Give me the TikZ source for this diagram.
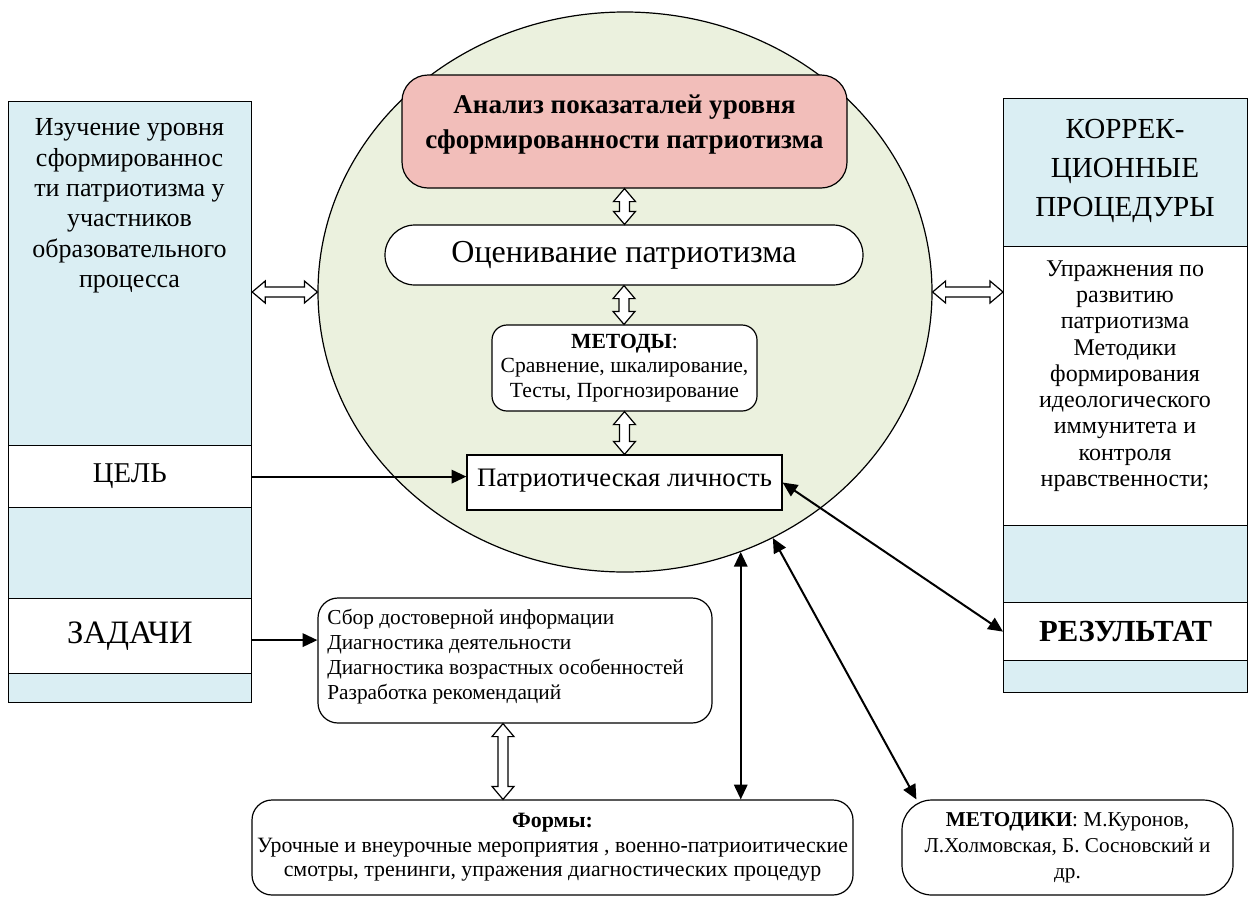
\documentclass[tikz,border=0pt]{standalone}
\usepackage{fontspec}
\setmainfont{Liberation Serif}
\usetikzlibrary{shapes.geometric,arrows.meta,calc}
\newdimen\pxu \pxu=0.75pt
\definecolor{colblue}{RGB}{218,238,243}
\definecolor{circgreen}{RGB}{235,241,222}
\definecolor{redfill}{RGB}{242,190,186}
\newcommand\fs[2]{\fontsize{#1}{#2}\selectfont}
\newcommand\harr[2]{\draw[hollow] let \p1=#1, \p2=#2 in
  (\x1,\y1) -- (\x1+9.75pt,\y1+8.25pt) -- (\x1+9.75pt,\y1+3.75pt) -- (\x2-9.75pt,\y1+3.75pt)
  -- (\x2-9.75pt,\y1+8.25pt) -- (\x2,\y1) -- (\x2-9.75pt,\y1-8.25pt) -- (\x2-9.75pt,\y1-3.75pt)
  -- (\x1+9.75pt,\y1-3.75pt) -- (\x1+9.75pt,\y1-8.25pt) -- cycle;}
\newcommand\varr[2]{\draw[hollow] let \p1=#1, \p2=#2 in
  (\x1,\y1) -- (\x1+8.25pt,\y1-9.75pt) -- (\x1+3.75pt,\y1-9.75pt) -- (\x1+3.75pt,\y2+9.75pt)
  -- (\x1+8.25pt,\y2+9.75pt) -- (\x1,\y2) -- (\x1-8.25pt,\y2+9.75pt) -- (\x1-3.75pt,\y2+9.75pt)
  -- (\x1-3.75pt,\y1-9.75pt) -- (\x1-8.25pt,\y1-9.75pt) -- cycle;}
\begin{document}
\begin{tikzpicture}[x=0.75pt,y=-0.75pt,
  frame/.style={draw=black, line width=0.9pt},
  colbox/.style={frame, fill=colblue, rectangle, inner sep=0pt, anchor=north west},
  band/.style={frame, fill=white, rectangle, inner sep=0pt, anchor=north west},
  rbox/.style={frame, fill=white, rectangle, inner sep=0pt},
  arr/.style={line width=1.5pt, -{Triangle[length=11pt,width=10pt]}},
  dbl/.style={line width=1.5pt, {Triangle[length=11pt,width=10pt]}-{Triangle[length=11pt,width=10pt]}},
  hollow/.style={draw=black, fill=white, line width=0.9pt, line join=miter},
  txt/.style={inner sep=0pt, align=center}]
\useasboundingbox (0,0) rectangle (1249,897);
\fill[white] (0,0) rectangle (1249,897);
% central ellipse
\node[ellipse, draw=black, line width=0.9pt, fill=circgreen, minimum width=614\pxu, minimum height=560\pxu, inner sep=0pt] (circ) at (625,292) {};
% left column
\node[colbox, minimum width=243.5\pxu, minimum height=601\pxu] (leftcol) at (7.5,101) {};
\node[txt, font=\fs{19.5}{22.8}] (lhead) at (129.5,206) {Изучение уровня\\сформированнос\\ти патриотизма у\\участников\\образовательного\\процесса};
\node[band, minimum width=243.5\pxu, minimum height=62\pxu, font=\fs{21.5}{26}] (cel) at (7.5,445) {ЦЕЛЬ};
\node[band, minimum width=243.5\pxu, minimum height=75\pxu, font=\fs{24.5}{28}] (zad) at (7.5,598) {ЗАДАЧИ};
% right column
\node[colbox, minimum width=244\pxu, minimum height=594\pxu] (rightcol) at (1003,98) {};
\node[txt, font=\fs{21.8}{29.5}] (rhead) at (1125,171) {КОРРЕК-\\ЦИОННЫЕ\\ПРОЦЕДУРЫ};
\node[band, minimum width=244\pxu, minimum height=279\pxu] (rband) at (1003,246) {};
\node[txt, font=\fs{18}{19.7}] (rtext) at (1125,376) {Упражнения по\\развитию\\патриотизма\\Методики\\формирования\\идеологического\\иммунитета и\\контроля\\нравственности;};
\node[band, minimum width=244\pxu, minimum height=58\pxu, font=\bfseries\fs{23}{26}] (res) at (1003,602) {РЕЗУЛЬТАТ};
% boxes in the ellipse
\node[frame, fill=redfill, rounded corners=26\pxu, minimum width=445\pxu, minimum height=113\pxu, inner sep=0pt] (anal) at (624.5,131.5) {};
\node[txt, font=\bfseries\fs{20.3}{26.25}] (analtext) at (624.5,125) {Анализ показаталей уровня\\сформированности патриотизма};
\node[frame, fill=white, rounded corners=30\pxu, minimum width=478\pxu, minimum height=60\pxu, inner sep=0pt, font=\fs{24}{28}] (ocen) at (624,255) {Оценивание патриотизма};
\node[frame, fill=white, rounded corners=15\pxu, minimum width=265\pxu, minimum height=86\pxu, align=center, inner sep=0pt, font=\fs{16.2}{18.4}] (metody) at (624.5,368) {\textbf{МЕТОДЫ}:\\Сравнение, шкалирование,\\Тесты, Прогнозирование};
\node[rbox, minimum width=315\pxu, minimum height=55\pxu, text height=14.5pt, text depth=9pt, font=\fs{20}{23}] (patr) at (624.5,482.5) {Патриотическая личность};
% lower boxes
\node[frame, fill=white, rounded corners=20\pxu, minimum width=394\pxu, minimum height=125\pxu] (sbor) at (515,660.5) {};
\node[inner sep=0pt, align=left, anchor=west, font=\fs{16}{18.75}] (sbortext) at (327,656.5) {Сбор достоверной информации\\Диагностика деятельности\\Диагностика возрастных особенностей\\Разработка рекомендаций};
\node[frame, fill=white, rounded corners=20\pxu, minimum width=601\pxu, minimum height=95\pxu, align=center, inner sep=0pt, font=\fs{16.4}{18.5}] (formy) at (552.5,847.5) {\textbf{Формы:}\\Урочные и внеурочные мероприятия , военно-патриоитические\\смотры, тренинги, упражения диагностических процедур};
\node[frame, fill=white, rounded corners=30\pxu, minimum width=331\pxu, minimum height=95\pxu, align=center, inner sep=0pt, font=\fs{15.9}{19.5}] (metodiki) at (1067.5,847.5) {\textbf{МЕТОДИКИ}: М.Куронов,\\Л.Холмовская, Б. Сосновский и\\др.};
% connectors
\draw[arr] (cel.east) -- (cel.east -| patr.west);
\draw[arr] ([yshift=-4\pxu]zad.east) -- ([yshift=-4\pxu]zad.east -| sbor.west);
\draw[dbl] (patr.east) -- (res.west);
\draw[dbl] (circ.-66) -- (circ.-66 |- formy.north);
\draw[dbl] (circ.-59) -- ([xshift=15\pxu]metodiki.north west);
\harr{(leftcol.east |- circ.west)}{(circ.west)}
\harr{(circ.east)}{(rightcol.west)}
\varr{(anal.south)}{(ocen.north)}
\varr{(ocen.south)}{(metody.north)}
\varr{(metody.south)}{(patr.north)}
\varr{([xshift=-12\pxu]sbor.south)}{(formy.north)}
\end{tikzpicture}
\end{document}
